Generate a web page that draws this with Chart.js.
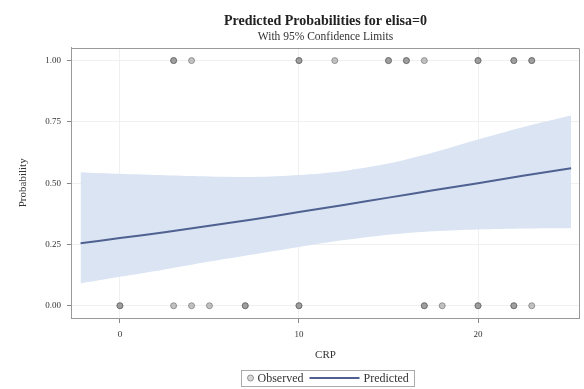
<!DOCTYPE html>
<html><head><meta charset="utf-8">
<script src="https://cdn.jsdelivr.net/npm/chart.js@4.4.1/dist/chart.umd.min.js"></script>
<style>html,body{margin:0;padding:0;background:#fff}#wrap{width:584px;height:389px;position:relative}</style>
</head><body><div id="wrap"><canvas id="c" width="584" height="389"></canvas></div>
<script>
// ---- data ----
const crpGrid   = [-2.2, 0, 2.5, 5, 7.5, 10, 12.5, 15, 17.5, 20, 22.5, 25.2];
const predicted = [0.255, 0.276, 0.300, 0.326, 0.353, 0.382, 0.411, 0.441, 0.471, 0.500, 0.530, 0.561];
const upperCL   = [0.545, 0.538, 0.532, 0.527, 0.525, 0.533, 0.550, 0.580, 0.625, 0.678, 0.728, 0.776];
const lowerCL   = [0.091, 0.118, 0.148, 0.180, 0.210, 0.240, 0.268, 0.290, 0.304, 0.311, 0.315, 0.316];
const observedCRP1 = [3,3,4,10,10,12,15,15,16,16,17,20,20,22,22,23,23];   // outcome = 1
const observedCRP0 = [0,0,3,4,5,7,7,10,10,17,17,18,20,20,22,22,23];       // outcome = 0
const xTickStep = 10;
const yTickStep = 0.25;

const FONT = "'Liberation Serif','DejaVu Serif',serif";
const LINE_COLOR = '#4f6190';
const BAND_COLOR = '#dae4f3';

const pts = (xs, ys) => xs.map((x, i) => ({x, y: ys[i]}));

const frame = {
  id: 'frame',
  afterDraw(chart) {
    const {ctx, chartArea: a} = chart;
    ctx.save();
    ctx.strokeStyle = '#999';
    ctx.lineWidth = 1;
    ctx.beginPath();
    ctx.moveTo(Math.round(a.left), Math.round(a.top) + 0.5);
    ctx.lineTo(Math.round(a.right) + 0.5, Math.round(a.top) + 0.5);
    ctx.lineTo(Math.round(a.right) + 0.5, Math.round(a.bottom));
    ctx.stroke();
    ctx.restore();
  }
};

const legendBox = {
  id: 'legendBox',
  afterDraw(chart) {
    const {ctx, chartArea: a} = chart;
    ctx.save();
    ctx.font = '12px ' + FONT;
    const t1 = 'Observed', t2 = 'Predicted';
    const w1 = ctx.measureText(t1).width, w2 = ctx.measureText(t2).width;
    const pad = 6, mk = 6, g = 4, lineLen = 50;
    const total = pad + mk + g + w1 + g + 2 + lineLen + g + w2 + pad;
    const cx = (a.left + a.right) / 2 + 2;
    const x0 = Math.round(cx - total / 2) + 0.5;
    const yc = chart.height - 11;
    const h = 16;
    ctx.strokeStyle = '#aaa';
    ctx.lineWidth = 1;
    ctx.strokeRect(x0, Math.round(yc - h / 2) + 0.5, Math.round(total), h);
    let x = x0 + pad;
    ctx.beginPath();
    ctx.arc(x + mk / 2, yc, 3, 0, Math.PI * 2);
    ctx.fillStyle = 'rgba(130,130,130,0.3)';
    ctx.fill();
    ctx.strokeStyle = 'rgba(110,110,110,0.7)';
    ctx.stroke();
    x += mk + g;
    ctx.fillStyle = '#333';
    ctx.textBaseline = 'middle';
    ctx.fillText(t1, x, yc + 0.5);
    x += w1 + g + 2;
    ctx.beginPath();
    ctx.moveTo(x, yc);
    ctx.lineTo(x + lineLen, yc);
    ctx.strokeStyle = LINE_COLOR;
    ctx.lineWidth = 2;
    ctx.stroke();
    x += lineLen + g;
    ctx.fillText(t2, x, yc + 0.5);
    ctx.restore();
  }
};

new Chart(document.getElementById('c'), {
  type: 'scatter',
  data: {
    datasets: [
      {type: 'line', label: 'Upper', data: pts(crpGrid, upperCL), borderColor: 'rgba(0,0,0,0)', borderWidth: 0,
       pointRadius: 0, fill: '+1', backgroundColor: BAND_COLOR, tension: 0.3, order: 3},
      {type: 'line', label: 'Lower', data: pts(crpGrid, lowerCL), borderColor: 'rgba(0,0,0,0)', borderWidth: 0,
       pointRadius: 0, fill: false, tension: 0.3, order: 3},
      {type: 'line', label: 'Predicted', data: pts(crpGrid, predicted), borderColor: LINE_COLOR, borderWidth: 2,
       pointRadius: 0, fill: false, tension: 0.3, order: 2},
      {type: 'scatter', label: 'Observed',
       data: [...observedCRP1.map(x => ({x, y: 1})), ...observedCRP0.map(x => ({x, y: 0}))],
       pointRadius: 3, backgroundColor: 'rgba(115,115,115,0.42)', borderColor: 'rgba(100,100,100,0.6)', borderWidth: 1, order: 1}
    ]
  },
  options: {
    responsive: false,
    animation: false,
    layout: {padding: {left: 0, right: 5, top: 0, bottom: 23}},
    plugins: {
      legend: {display: false},
      tooltip: {enabled: false},
      title: {display: true, text: 'Predicted Probabilities for elisa=0', fullSize: false,
              font: {family: FONT, size: 14, weight: 'bold'}, color: '#222', padding: {top: 13, bottom: 0}},
      subtitle: {display: true, text: 'With 95% Confidence Limits', fullSize: false,
                 font: {family: FONT, size: 11.5}, color: '#333', padding: {top: 0, bottom: 4}}
    },
    scales: {
      x: {
        type: 'linear', min: -2.68, max: 25.64,
        ticks: {stepSize: xTickStep, includeBounds: false, maxRotation: 0, padding: 6,
                font: {family: FONT, size: 9}, color: '#333'},
        grid: {color: '#f0f0f0', tickColor: '#888', tickLength: 5},
        border: {color: '#999'},
        title: {display: true, text: 'CRP', font: {family: FONT, size: 11}, color: '#333', padding: {top: 3, bottom: 4}}
      },
      y: {
        type: 'linear', min: -0.05, max: 1.053,
        ticks: {stepSize: yTickStep, includeBounds: false, padding: 6, callback: v => v.toFixed(2),
                font: {family: FONT, size: 9}, color: '#333'},
        grid: {color: '#f0f0f0', tickColor: '#888', tickLength: 5},
        border: {color: '#999'},
        title: {display: true, text: 'Probability', font: {family: FONT, size: 11}, color: '#333', padding: {top: 17, bottom: 9}}
      }
    }
  },
  plugins: [frame, legendBox]
});
</script>
</body></html>
